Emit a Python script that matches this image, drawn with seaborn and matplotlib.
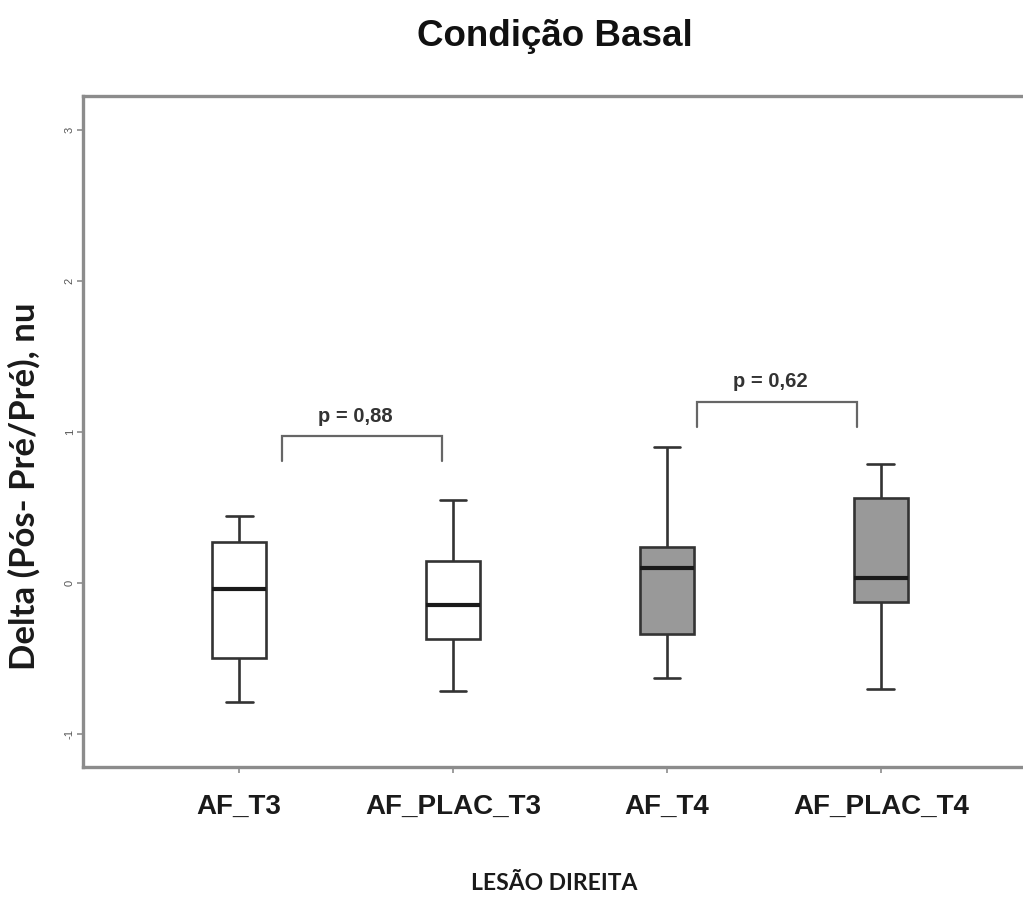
import numpy as np
import pandas as pd
import matplotlib
matplotlib.use("Agg")
import matplotlib.pyplot as plt
import seaborn as sns

# ---- data (five-number summaries) ----
categories = ["AF_T3", "AF_PLAC_T3", "AF_T4", "AF_PLAC_T4"]
af_t3 = [-0.79, -0.50, -0.04, 0.27, 0.44]
af_plac_t3 = [-0.715, -0.37, -0.146, 0.146, 0.55]
af_t4 = [-0.63, -0.34, 0.10, 0.24, 0.90]
af_plac_t4 = [-0.70, -0.13, 0.03, 0.56, 0.79]
box_colors = ["#ffffff", "#ffffff", "#999999", "#999999"]

# brackets: (left pos, right pos, top y, drop y, label)
bracket_pairs = [(0.2, 0.95), (2.14, 2.89)]
bracket_tops = [0.97, 1.20]
bracket_drops = [0.81, 1.03]
bracket_labels = ["p = 0,88", "p = 0,62"]

title = "Condição Basal"
ylabel = "Delta (Pós- Pré/Pré), nu"
xlabel = "LESÃO DIREITA"
yticks = [-1, 0, 1, 2, 3]

df = pd.DataFrame({
    "grupo": np.repeat(categories, 5),
    "delta": np.concatenate([af_t3, af_plac_t3, af_t4, af_plac_t4]),
})

sns.set_theme(style="white")
plt.rcParams["font.family"] = ["Liberation Sans", "DejaVu Sans"]

fig = plt.figure(figsize=(10.23, 9.02), dpi=100)
ax = fig.add_axes([83 / 1023, (902 - 767) / 902, 954 / 1023, 671 / 902])

sns.boxplot(
    data=df, x="grupo", y="delta", hue="grupo", order=categories,
    hue_order=categories, palette=box_colors, saturation=1, legend=False,
    width=0.25, whis=np.inf, linewidth=1.9, linecolor="#333333",
    medianprops=dict(color="#1a1a1a", linewidth=3.0),
    ax=ax,
)

ax.set_xlim(-0.73, 3.73)
ax.set_ylim(-1.22, 3.225)
ax.set_yticks(yticks)
ax.set_yticklabels([str(t) for t in yticks])

for sp in ["top", "left", "bottom", "right"]:
    ax.spines[sp].set_color("#8c8c8c")
    ax.spines[sp].set_linewidth(2.4)

ax.tick_params(axis="y", which="major", left=True, length=4, width=1.2,
               color="#8c8c8c", labelsize=8, labelcolor="#555555",
               labelrotation=90, pad=2)
ax.tick_params(axis="x", which="major", bottom=True, length=4, width=1.2,
               color="#8c8c8c", pad=15)
for lab in ax.get_xticklabels():
    lab.set_fontfamily(["Liberation Sans", "DejaVu Sans"])
    lab.set_fontweight("bold")
    lab.set_fontsize(20)
    lab.set_color("#1a1a1a")
for lab in ax.get_yticklabels():
    lab.set_va("center")

# brackets
for (x0, x1), top, drop, lab in zip(bracket_pairs, bracket_tops, bracket_drops, bracket_labels):
    ax.plot([x0, x0, x1, x1], [drop, top, top, drop], color="#666666", lw=1.6,
            solid_joinstyle="miter", clip_on=False)
    ax.text((x0 + x1) / 2 - 0.03, top + 0.07, lab, ha="center", va="bottom",
            fontsize=14.5, fontweight="bold", color="#333333")

ax.set_xlabel(xlabel, fontsize=16.5, fontweight="bold", color="#1a1a1a",
              fontfamily=["Lato", "DejaVu Sans"])
ax.xaxis.set_label_coords((554 - 83) / 954, (767 - 884) / 671)
ax.set_ylabel(ylabel, fontsize=25, fontweight="bold", color="#1a1a1a",
              fontfamily=["Lato", "DejaVu Sans"])
ax.yaxis.set_label_coords((24 - 83) / 954, (767 - 486) / 671)
ax.xaxis.label.set_va("center")
ax.yaxis.label.set_va("center")

fig.suptitle(title, x=555 / 1023, y=1 - 36 / 902, va="center",
             fontsize=26.5, fontweight="bold", color="#111111")

fig.savefig("out.png", dpi=100, facecolor="white")
